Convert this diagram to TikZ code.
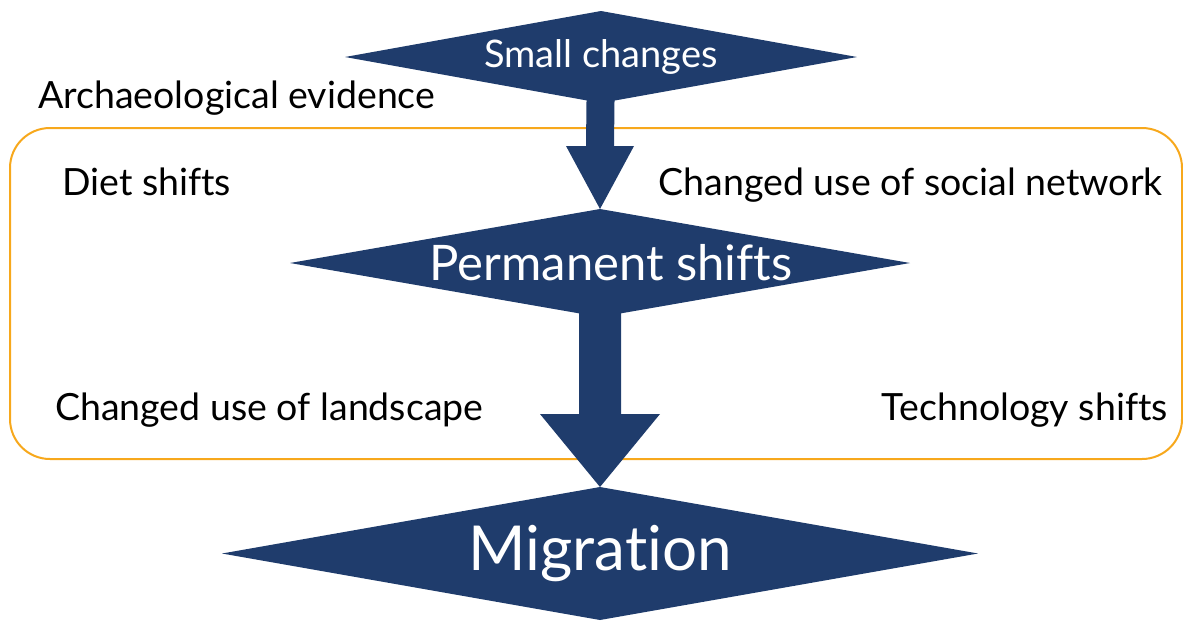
\documentclass[tikz,border=0pt]{standalone}
\usepackage{fontspec}
\setmainfont{Lato}[Ligatures=NoCommon]
\usetikzlibrary{shapes.geometric,calc,backgrounds}
\definecolor{navy}{RGB}{31,60,108}
\definecolor{amber}{RGB}{247,168,28}
\begin{document}
\begin{tikzpicture}[x=1pt,y=-1pt,
  flow/.style={diamond,fill=navy,inner sep=0pt,outer sep=0pt,draw=none},
  flowtext/.style={text=white,inner sep=0pt},
  note/.style={anchor=base west,inner sep=0pt,text=black,font=\fontsize{37.5}{42}\selectfont},
  blockarrow/.style={fill=navy}]
\useasboundingbox (0,0) rectangle (1183,622);

% the three stages
\node[flow,minimum width=512pt,minimum height=92pt] (small) at (601,57) {};
\node[flowtext,font=\fontsize{38}{42}\selectfont] (smalltext) at (small.center) {Small changes};
\node[flow,minimum width=620pt,minimum height=108pt] (perm) at (600,263) {};
\node[flowtext,font=\fontsize{49}{55}\selectfont] (permtext) at ($(perm.center)+(11,0)$) {Permanent shifts};
\node[flow,minimum width=756pt,minimum height=133pt] (mig) at (600,553.5) {};
\node[flowtext,font=\fontsize{62}{68}\selectfont] (migtext) at (mig.center) {Migration};

\begin{scope}[on background layer]
  % evidence frame
  \draw[amber,line width=2pt,rounded corners=40pt] (10,128) rectangle (1182,459);
  % block arrows between stages
  \fill[blockarrow] ($(small.center)+(-14,0)$) -- ($(small.center)+(14,0)$)
    -- ($(perm.north)+(14,-63)$) -- ($(perm.north)+(34,-63)$) -- (perm.north)
    -- ($(perm.north)+(-34,-63)$) -- ($(perm.north)+(-14,-63)$) -- cycle;
  \fill[blockarrow] ($(perm.center)+(-21,0)$) -- ($(perm.center)+(21,0)$)
    -- ($(mig.north)+(21,-73)$) -- ($(mig.north)+(60,-73)$) -- (mig.north)
    -- ($(mig.north)+(-60,-73)$) -- ($(mig.north)+(-21,-73)$) -- cycle;
\end{scope}

% labels
\node[note] (arch) at (38,108) {Archaeological evidence};
\node[note] (diet) at (62,195) {Diet shifts};
\node[note,anchor=base east] (social) at (1163,195) {Changed use of social network};
\node[note] (land) at (55,420) {Changed use of landscape};
\node[note,anchor=base east] (tech) at (1168,420) {Technology shifts};
\end{tikzpicture}
\end{document}
